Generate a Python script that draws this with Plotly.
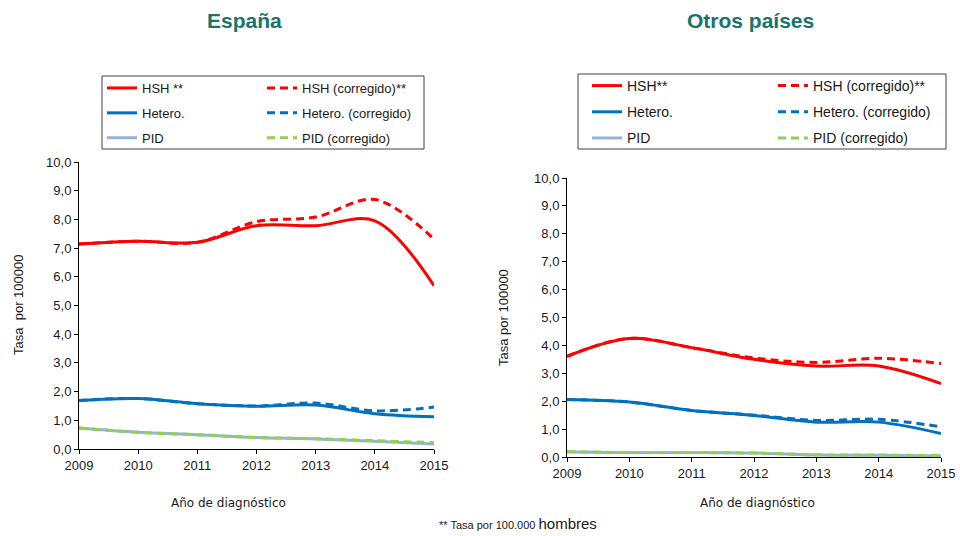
import plotly.graph_objects as go

years = [2009, 2010, 2011, 2012, 2013, 2014, 2015]
y_ticks = [0, 1, 2, 3, 4, 5, 6, 7, 8, 9, 10]

# España
esp_hsh = [7.14, 7.24, 7.20, 7.78, 7.78, 7.95, 5.69]
esp_hsh_c = [7.14, 7.24, 7.20, 7.92, 8.08, 8.69, 7.31]
esp_het = [1.69, 1.76, 1.58, 1.49, 1.53, 1.23, 1.12]
esp_het_c = [1.69, 1.76, 1.58, 1.50, 1.60, 1.33, 1.46]
esp_pid = [0.73, 0.58, 0.50, 0.40, 0.35, 0.27, 0.17]
esp_pid_c = [0.73, 0.58, 0.50, 0.40, 0.36, 0.29, 0.22]

# Otros países
otr_hsh = [3.61, 4.25, 3.92, 3.50, 3.26, 3.26, 2.63]
otr_hsh_c = [3.61, 4.25, 3.92, 3.55, 3.39, 3.54, 3.35]
otr_het = [2.06, 1.97, 1.67, 1.49, 1.25, 1.25, 0.84]
otr_het_c = [2.06, 1.97, 1.67, 1.50, 1.31, 1.35, 1.08]
otr_pid = [0.19, 0.16, 0.16, 0.14, 0.07, 0.06, 0.04]
otr_pid_c = [0.19, 0.16, 0.16, 0.14, 0.08, 0.07, 0.05]

labels_esp = ["HSH **", "Hetero.", "PID", "HSH (corregido)**", "Hetero. (corregido)", "PID (corregido)"]
labels_otr = ["HSH**", "Hetero.", "PID", "HSH (corregido)**", "Hetero. (corregido)", "PID (corregido)"]

RED = "#FF0000"
BLUE = "#0070C0"
LBLUE = "#95B3D7"
GREEN = "#92D050"
TEAL = "#17756B"
DASH = "8px,5px"

W, H = 960, 536
def px(x):
    return x / W
def py(y):
    return 1 - y / H

fig = go.Figure()

def add_set(xa, ya, data, labels, leg1, leg2, tag):
    styles = [
        (data[0], labels[0], RED, "solid", leg1),
        (data[2], labels[1], BLUE, "solid", leg1),
        (data[4], labels[2], LBLUE, "solid", leg1),
        (data[1], labels[3], RED, DASH, leg2),
        (data[3], labels[4], BLUE, DASH, leg2),
        (data[5], labels[5], GREEN, DASH, leg2),
    ]
    for i, (vals, name, col, dash, leg) in enumerate(styles):
        fig.add_trace(go.Scatter(
            x=years, y=vals, name=name, mode="lines",
            line=dict(color=col, width=3, dash=dash, shape="spline", smoothing=1),
            xaxis=xa, yaxis=ya, legend=leg, legendgroup=tag + str(i),
        ))

add_set("x", "y", [esp_hsh, esp_hsh_c, esp_het, esp_het_c, esp_pid, esp_pid_c], labels_esp,
        "legend", "legend2", "e")
add_set("x2", "y2", [otr_hsh, otr_hsh_c, otr_het, otr_het_c, otr_pid, otr_pid_c], labels_otr,
        "legend3", "legend4", "o")

tickfont = dict(family="Liberation Sans, Arial, sans-serif", size=13, color="#1a1a1a")
axis_common = dict(showline=True, linecolor="black", linewidth=1, ticks="outside",
                   ticklen=4, tickcolor="black", showgrid=False, zeroline=False,
                   tickfont=tickfont, automargin=False)

fig.update_layout(
    template="none",
    width=W, height=H,
    margin=dict(l=0, r=0, t=0, b=0, autoexpand=False),
    paper_bgcolor="white", plot_bgcolor="white",
    separators=",.",
    showlegend=True,
    xaxis=dict(domain=[px(79), px(434)], range=[2009, 2015], tickvals=years,
               anchor="y", **axis_common),
    yaxis=dict(domain=[py(449), py(162)], range=[0, 10], tickvals=y_ticks,
               tickformat=".1f", anchor="x", **axis_common),
    xaxis2=dict(domain=[px(567), px(941)], range=[2009, 2015], tickvals=years,
                anchor="y2", **axis_common),
    yaxis2=dict(domain=[py(457), py(178)], range=[0, 10], tickvals=y_ticks,
                tickformat=".1f", anchor="x2", **axis_common),
)

def legend_cfg(x, y, size):
    return dict(x=px(x), y=py(y), xanchor="left", yanchor="top", orientation="v",
                bgcolor="rgba(0,0,0,0)", borderwidth=0,
                font=dict(family="Liberation Sans, Arial, sans-serif", size=size, color="#1a1a1a"),
                tracegroupgap=5, itemwidth=30)

fig.update_layout(
    legend=legend_cfg(102, 73, 13),
    legend2=legend_cfg(262, 73, 13),
    legend3=legend_cfg(587, 70, 14),
    legend4=legend_cfg(773, 70, 14),
)

# legend frames
fig.add_shape(type="rect", xref="paper", yref="paper", x0=px(102), x1=px(424),
              y0=py(149), y1=py(76), line=dict(color="#404040", width=1))
fig.add_shape(type="rect", xref="paper", yref="paper", x0=px(578), x1=px(946),
              y0=py(149), y1=py(74), line=dict(color="#404040", width=1))

ann = []
titlefont = dict(family="Liberation Sans, Arial, sans-serif", size=21, color=TEAL)
ann.append(dict(text="<b>España</b>", x=px(245), y=py(20), xref="paper", yref="paper",
                showarrow=False, font=titlefont, xanchor="center", yanchor="middle"))
ann.append(dict(text="<b>Otros países</b>", x=px(750), y=py(20), xref="paper", yref="paper",
                showarrow=False, font=titlefont, xanchor="center", yanchor="middle"))
ytfont = dict(family="Liberation Sans, Arial, sans-serif", size=13, color="#1a1a1a")
ann.append(dict(text="Tasa\u00a0 por 100000", x=px(18), y=py(305), xref="paper", yref="paper",
                showarrow=False, font=ytfont, textangle=-90, xanchor="center", yanchor="middle"))
ann.append(dict(text="Tasa por 100000", x=px(503), y=py(318), xref="paper", yref="paper",
                showarrow=False, font=ytfont, textangle=-90, xanchor="center", yanchor="middle"))
xtfont = dict(family="DejaVu Sans, Verdana, sans-serif", size=12, color="#1a1a1a")
ann.append(dict(text="Año de diagnóstico", x=px(228), y=py(503), xref="paper", yref="paper",
                showarrow=False, font=xtfont, xanchor="center", yanchor="middle"))
ann.append(dict(text="Año de diagnóstico", x=px(757), y=py(503), xref="paper", yref="paper",
                showarrow=False, font=xtfont, xanchor="center", yanchor="middle"))
ann.append(dict(text="** Tasa por 100.000 <span style='font-size:15px'>hombres</span>",
                x=px(437), y=py(523), xref="paper", yref="paper", showarrow=False,
                font=dict(family="Liberation Sans Narrow, Liberation Sans, Arial, sans-serif",
                          size=11, color="#1a1a1a"),
                xanchor="left", yanchor="middle"))
fig.update_layout(annotations=ann)

fig.write_html(
    "out.html",
    config={"displayModeBar": False},
    post_script="document.body.style.margin='0px';document.body.style.overflow='hidden';",
)
